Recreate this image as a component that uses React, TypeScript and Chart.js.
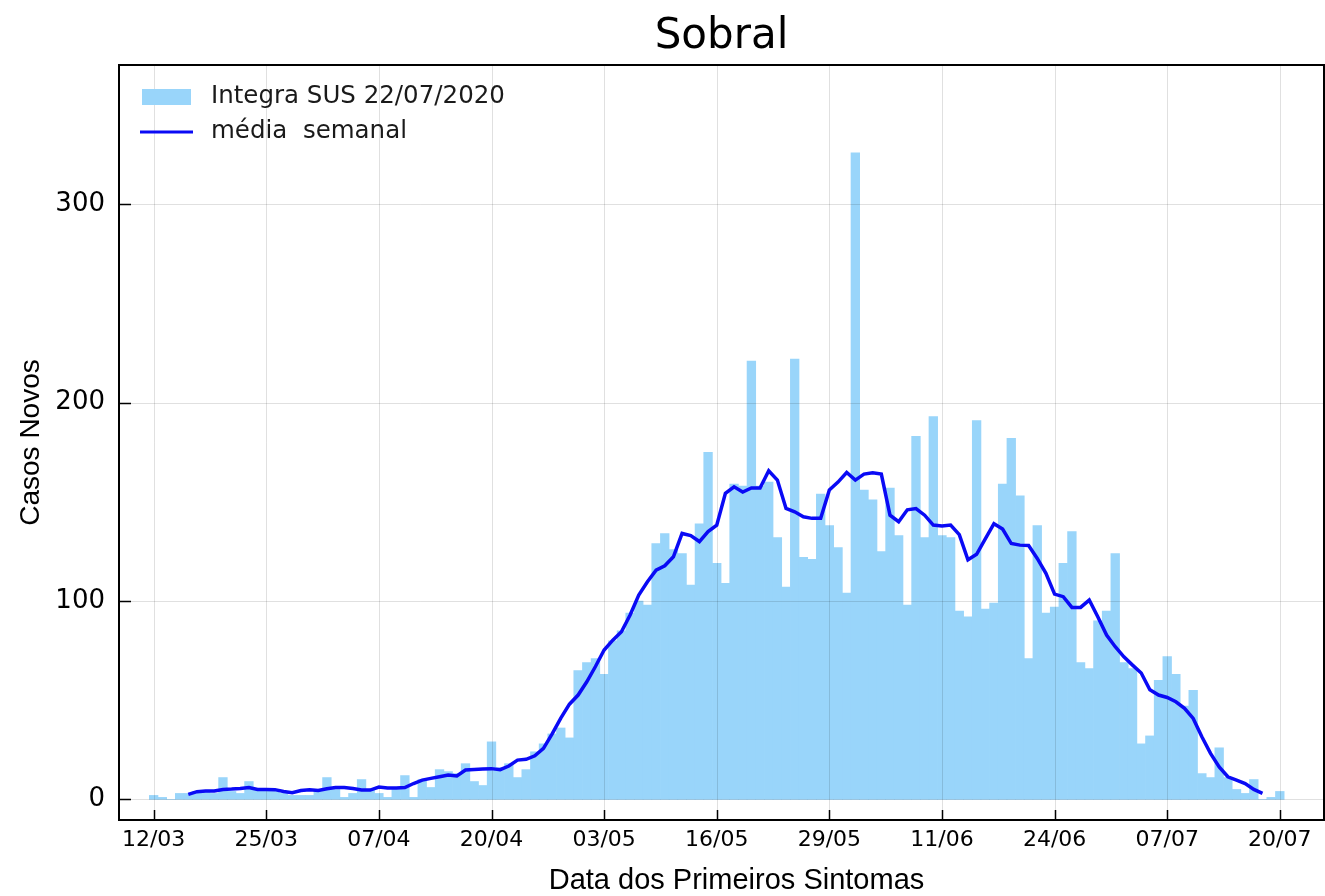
import { useEffect, useRef } from 'react';
import { Chart, registerables } from 'chart.js';

Chart.register(...registerables);

const chartTitle = 'Sobral';
const barLabel = 'Integra SUS 22/07/2020';
const lineLabel = 'média  semanal';
const xTitle = 'Data dos Primeiros Sintomas';
const yTitle = 'Casos Novos';

// day index 0 = 12/03/2020
const tickDays = [0, 13, 26, 39, 52, 65, 78, 91, 104, 117, 130];
const tickLabels = ['12/03', '25/03', '07/04', '20/04', '03/05', '16/05', '29/05', '11/06', '24/06', '07/07', '20/07'];
const yTickValues = [0, 100, 200, 300];

// daily new cases, one per day from 12/03 to 20/07
const newCases = [
  2, 1, 0, 3, 3, 4, 4, 3, 11, 4,
  3, 9, 5, 5, 4, 3, 2, 2, 2, 4,
  11, 5, 1, 3, 10, 5, 3, 1, 5, 12,
  1, 10, 6, 15, 14, 13, 18, 9, 7, 29,
  16, 18, 11, 15, 24, 28, 33, 36, 31, 65,
  69, 71, 63, 80, 85, 94, 100, 98, 129, 134,
  126, 124, 108, 139, 175, 119, 109, 159, 158, 221,
  158, 160, 132, 107, 222, 122, 121, 154, 138, 127,
  104, 326, 156, 151, 125, 157, 133, 98, 183, 132,
  193, 133, 132, 95, 92, 191, 96, 99, 159, 182,
  153, 71, 138, 94, 97, 119, 135, 69, 66, 90,
  95, 124, 69, 66, 28, 32, 60, 72, 63, 47,
  55, 13, 11, 26, 11, 5, 3, 10, 0, 1,
  4,
];

// weekly mean, starting at day index 4 (16/03)
const meanStartDay = 4;
const weeklyMean = [
  2.5, 3.9, 4.2, 4.2, 5, 5.2, 5.5, 6, 5, 5,
  4.9, 4, 3.4, 4.5, 4.9, 4.5, 5.4, 6, 6, 5.5,
  4.7, 4.7, 6.2, 5.7, 5.7, 6, 8, 9.7, 10.6, 11.4,
  12.3, 11.8, 14.8, 15.1, 15.3, 15.5, 15, 16.8, 19.8, 20.2,
  22, 25.7, 33, 41, 48, 52.6, 59.3, 67, 75.3, 80.3,
  84.5, 93, 103, 109.7, 115.6, 117.8, 122.3, 134.1, 133, 130,
  135, 138.3, 154.3, 157.6, 155, 157, 157, 165.7, 161, 146.7,
  145, 142.5, 141.7, 141.7, 156, 160, 164.8, 161, 164, 164.7,
  164, 143.3, 140, 146, 146.6, 143.3, 138.3, 137.8, 138.3, 133.5,
  120.8, 123.6, 131.3, 139, 136.3, 129, 128.2, 128, 121.5, 114,
  103.5, 102.2, 96.8, 96.8, 100.5, 92, 82.9, 77, 71.9, 67.7,
  63.7, 55.3, 52.6, 51.4, 49.2, 45.9, 40.8, 31.6, 23.2, 16.4,
  11.4, 9.7, 8, 5, 3,
];

const barColor = 'rgb(153, 213, 250)';
const lineColor = 'rgb(10, 10, 245)';
const gridColor = 'rgba(0, 0, 0, 0.12)';
const tickFont = 'DejaVu Sans';
const titleFont = 'Liberation Sans';

const decorPlugin = {
  id: 'decor',
  beforeDatasetDraw(chart: any, args: any) {
    if (args.index !== 1) return;
    const { ctx, chartArea: ca, scales } = chart;
    ctx.save();
    ctx.strokeStyle = gridColor;
    ctx.lineWidth = 1;
    ctx.beginPath();
    for (const d of tickDays) {
      const x = Math.round(scales.x.getPixelForValue(d)) + 0.5;
      ctx.moveTo(x, ca.top);
      ctx.lineTo(x, ca.bottom);
    }
    for (const v of yTickValues) {
      const y = Math.round(scales.y.getPixelForValue(v)) + 0.5;
      ctx.moveTo(ca.left, y);
      ctx.lineTo(ca.right, y);
    }
    ctx.stroke();
    ctx.restore();
  },
  afterDraw(chart: any) {
    const { ctx, chartArea: ca, scales } = chart;
    ctx.save();
    // inward ticks
    ctx.strokeStyle = '#000';
    ctx.lineWidth = 1.5;
    ctx.beginPath();
    for (const d of tickDays) {
      const x = Math.round(scales.x.getPixelForValue(d)) + 0.5;
      ctx.moveTo(x, ca.bottom);
      ctx.lineTo(x, ca.bottom - 10);
    }
    for (const v of yTickValues) {
      const y = Math.round(scales.y.getPixelForValue(v)) + 0.5;
      ctx.moveTo(ca.left, y);
      ctx.lineTo(ca.left + 12, y);
    }
    ctx.stroke();
    // frame
    ctx.lineWidth = 2;
    ctx.strokeRect(ca.left, ca.top, ca.right - ca.left, ca.bottom - ca.top);
    // legend
    const ds = chart.data.datasets;
    ctx.fillStyle = ds[0].backgroundColor;
    ctx.fillRect(ca.left + 23, ca.top + 24, 49, 16);
    ctx.strokeStyle = ds[1].borderColor;
    ctx.lineWidth = 3;
    ctx.beginPath();
    ctx.moveTo(ca.left + 21, ca.top + 67);
    ctx.lineTo(ca.left + 74, ca.top + 67);
    ctx.stroke();
    ctx.fillStyle = '#1a1a1a';
    ctx.font = `24.5px "${tickFont}"`;
    ctx.textBaseline = 'middle';
    ctx.textAlign = 'left';
    ctx.fillText(ds[0].label, ca.left + 92, ca.top + 32);
    ctx.fillText(ds[1].label, ca.left + 92, ca.top + 67);
    // x axis title
    ctx.fillStyle = '#000';
    ctx.font = `29px "${titleFont}"`;
    ctx.textAlign = 'center';
    ctx.fillText(xTitle, (ca.left + ca.right) / 2 + 15, ca.bottom + 61);
    ctx.restore();
  },
};

export default function App() {
  const ref = useRef<HTMLCanvasElement | null>(null);

  useEffect(() => {
    if (!ref.current) return;
    const chart = new Chart(ref.current, {
      type: 'bar',
      data: {
        datasets: [
          {
            type: 'bar',
            label: barLabel,
            data: newCases.map((v, i) => ({ x: i, y: v })),
            backgroundColor: barColor,
            borderWidth: 0,
            barPercentage: 1,
            categoryPercentage: 1,
            order: 1,
          } as any,
          {
            type: 'line',
            label: lineLabel,
            data: weeklyMean.map((v, i) => ({ x: i + meanStartDay, y: v })),
            borderColor: lineColor,
            borderWidth: 3.5,
            pointRadius: 0,
            tension: 0,
            fill: false,
            order: 0,
          } as any,
        ],
      },
      plugins: [decorPlugin],
      options: {
        animation: false,
        responsive: false,
        devicePixelRatio: 1,
        layout: { padding: { left: 0, right: 1, top: 0, bottom: 0 } },
        plugins: {
          legend: { display: false },
          tooltip: { enabled: false },
          title: {
            display: true,
            text: chartTitle,
            fullSize: false,
            color: '#000',
            font: { family: tickFont, size: 42, weight: 'normal' },
            padding: { top: 12, bottom: 2.6 },
          },
        },
        scales: {
          x: {
            type: 'linear',
            offset: false,
            min: -4,
            max: 135.1,
            afterBuildTicks: (s: any) => {
              s.ticks = tickDays.map((v) => ({ value: v }));
            },
            afterFit: (s: any) => {
              s.height = 76;
            },
            ticks: {
              autoSkip: false,
              maxRotation: 0,
              color: '#000',
              padding: 7,
              font: { family: tickFont, size: 22 },
              callback: (v: any) => {
                const k = tickDays.indexOf(Number(v));
                return k >= 0 ? tickLabels[k] : '';
              },
            },
            grid: { display: false, drawTicks: false, offset: false },
            border: { display: false },
            title: { display: false },
          },
          y: {
            type: 'linear',
            min: -10.4,
            max: 370.3,
            afterBuildTicks: (s: any) => {
              s.ticks = yTickValues.map((v) => ({ value: v }));
            },
            afterFit: (s: any) => {
              s.width = 119;
            },
            ticks: {
              color: '#000',
              padding: 14,
              font: { family: tickFont, size: 26 },
            },
            grid: { display: false, drawTicks: false },
            border: { display: false },
            title: {
              display: true,
              text: yTitle,
              color: '#000',
              font: { family: titleFont, size: 28 },
              padding: { top: 14, bottom: 0 },
            },
          },
        },
      } as any,
    });
    return () => chart.destroy();
  }, []);

  return (
    <div style={{ position: 'absolute', left: 0, top: 0, width: 1325, height: 896, background: '#fff' }}>
      <canvas ref={ref} width={1325} height={896} style={{ display: 'block' }} />
    </div>
  );
}
